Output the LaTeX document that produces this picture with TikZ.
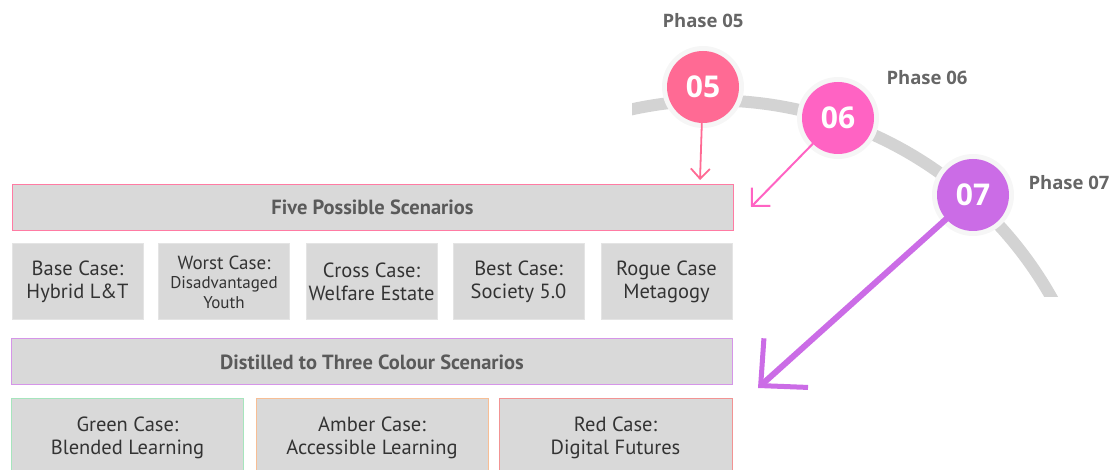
\documentclass[tikz,border=0pt]{standalone}
\usepackage{fontspec}
\setmainfont{PT Sans}
\newfontfamily\phasefont{Open Sans}
\usetikzlibrary{arrows.meta}
\definecolor{boxfill}{HTML}{D9D9D9}
\definecolor{boxline}{HTML}{E4E4E4}
\definecolor{arcgray}{HTML}{D3D3D3}
\definecolor{halo}{HTML}{F6F6F6}
\definecolor{pinkA}{HTML}{FF6A94}
\definecolor{pinkB}{HTML}{FF63C3}
\definecolor{violetC}{HTML}{CB6CE6}
\definecolor{barpink}{HTML}{FF7BA3}
\definecolor{barviolet}{HTML}{D595E8}
\definecolor{greenline}{HTML}{A6E5BD}
\definecolor{amberline}{HTML}{F7BE95}
\definecolor{redline}{HTML}{F29393}
\definecolor{titlegray}{HTML}{5A5A5A}
\definecolor{textdark}{HTML}{333333}
\definecolor{phasegray}{HTML}{666666}
\tikzset{
  bar/.style={draw=#1, line width=1pt, fill=boxfill, minimum width=721pt, minimum height=46pt,
    inner sep=0pt, text=titlegray, font=\bfseries\fontsize{20.5}{24}\selectfont},
  casebox/.style={draw=boxline, line width=1pt, fill=boxfill, minimum width=131pt, minimum height=76pt,
    inner sep=0pt, align=center, text=textdark, font=\fontsize{20.5}{22.5}\selectfont},
  colbox/.style={draw=#1, line width=1pt, fill=boxfill, minimum width=232pt, minimum height=77pt,
    inner sep=0pt, align=center, text=textdark, font=\fontsize{20.5}{23}\selectfont},
  phasecircle/.style={circle, fill=#1, minimum size=72pt, inner sep=0pt, text=white,
    font=\phasefont\bfseries\fontsize{30}{32}\selectfont},
  phaselabel/.style={text=phasegray, font=\phasefont\bfseries\fontsize{18.5}{20}\selectfont},
  haloring/.style={fill=halo},
}
\begin{document}
\begin{tikzpicture}[x=1pt,y=1pt]
\useasboundingbox (0,0) rectangle (1114,470);
% grey arc
\begin{scope}
  \clip (632,173) rectangle (1114,470);
  \draw[arcgray, line width=12pt] (714,-18) ++(104:387.5) arc[start angle=104, end angle=25, radius=387.5];
\end{scope}
% halos
\fill[haloring] (703,383) circle (41);
\fill[haloring] (838,352) circle (41);
\fill[haloring] (973,275) circle (41);
% phase circles
\node[phasecircle=pinkA] (c5) at (703,383) {05};
\node[phasecircle=pinkB] (c6) at (838,352) {06};
\node[phasecircle=violetC] (c7) at (973,275) {07};
% phase labels
\node[phaselabel] (p5) at (703,449) {Phase 05};
\node[phaselabel] (p6) at (927,392) {Phase 06};
\node[phaselabel] (p7) at (1069,287) {Phase 07};
% bars
\node[bar=barpink] (five) at (372.5,262.5) {Five Possible Scenarios};
\node[bar=barviolet] (three) at (372,108) {Distilled to Three Colour Scenarios};
% five cases
\node[casebox] (base) at (77.5,188) {Base Case:\\Hybrid L\&T};
\node[casebox, font=\fontsize{17}{19.5}\selectfont] (worst) at (224,188) {{\fontsize{19}{21}\selectfont Worst Case:}\\Disadvantaged\\Youth};
\node[casebox] (cross) at (371.5,188) {Cross Case:\\Welfare Estate};
\node[casebox] (best) at (518.5,188) {Best Case:\\Society 5.0};
\node[casebox] (rogue) at (666.5,188) {Rogue Case\\Metagogy};
% three colour cases
\node[colbox=greenline] (green) at (127.5,32.5) {Green Case:\\Blended Learning};
\node[colbox=amberline] (amber) at (372,32.5) {Amber Case:\\Accessible Learning};
\node[colbox=redline, minimum width=233pt] (red) at (615.5,32.5) {Red Case:\\Digital Futures};
% arrows
\coordinate (t5) at (700,290);
\coordinate (t6) at (751,263);
\coordinate (t7) at (758,82);
\draw[pinkA, line width=1.8pt, line cap=round, -{Straight Barb[length=10pt,width=19pt,line width=1.8pt]}] (c5) -- (t5);
\draw[pinkB, line width=2pt, line cap=round, -{Straight Barb[length=13pt,width=26pt,line width=2pt]}] (c6) -- (t6);
\draw[violetC, line width=6pt, line cap=round, -{Straight Barb[length=34pt,width=66pt,line width=5pt]}] (c7) -- (t7);
\end{tikzpicture}
\end{document}
